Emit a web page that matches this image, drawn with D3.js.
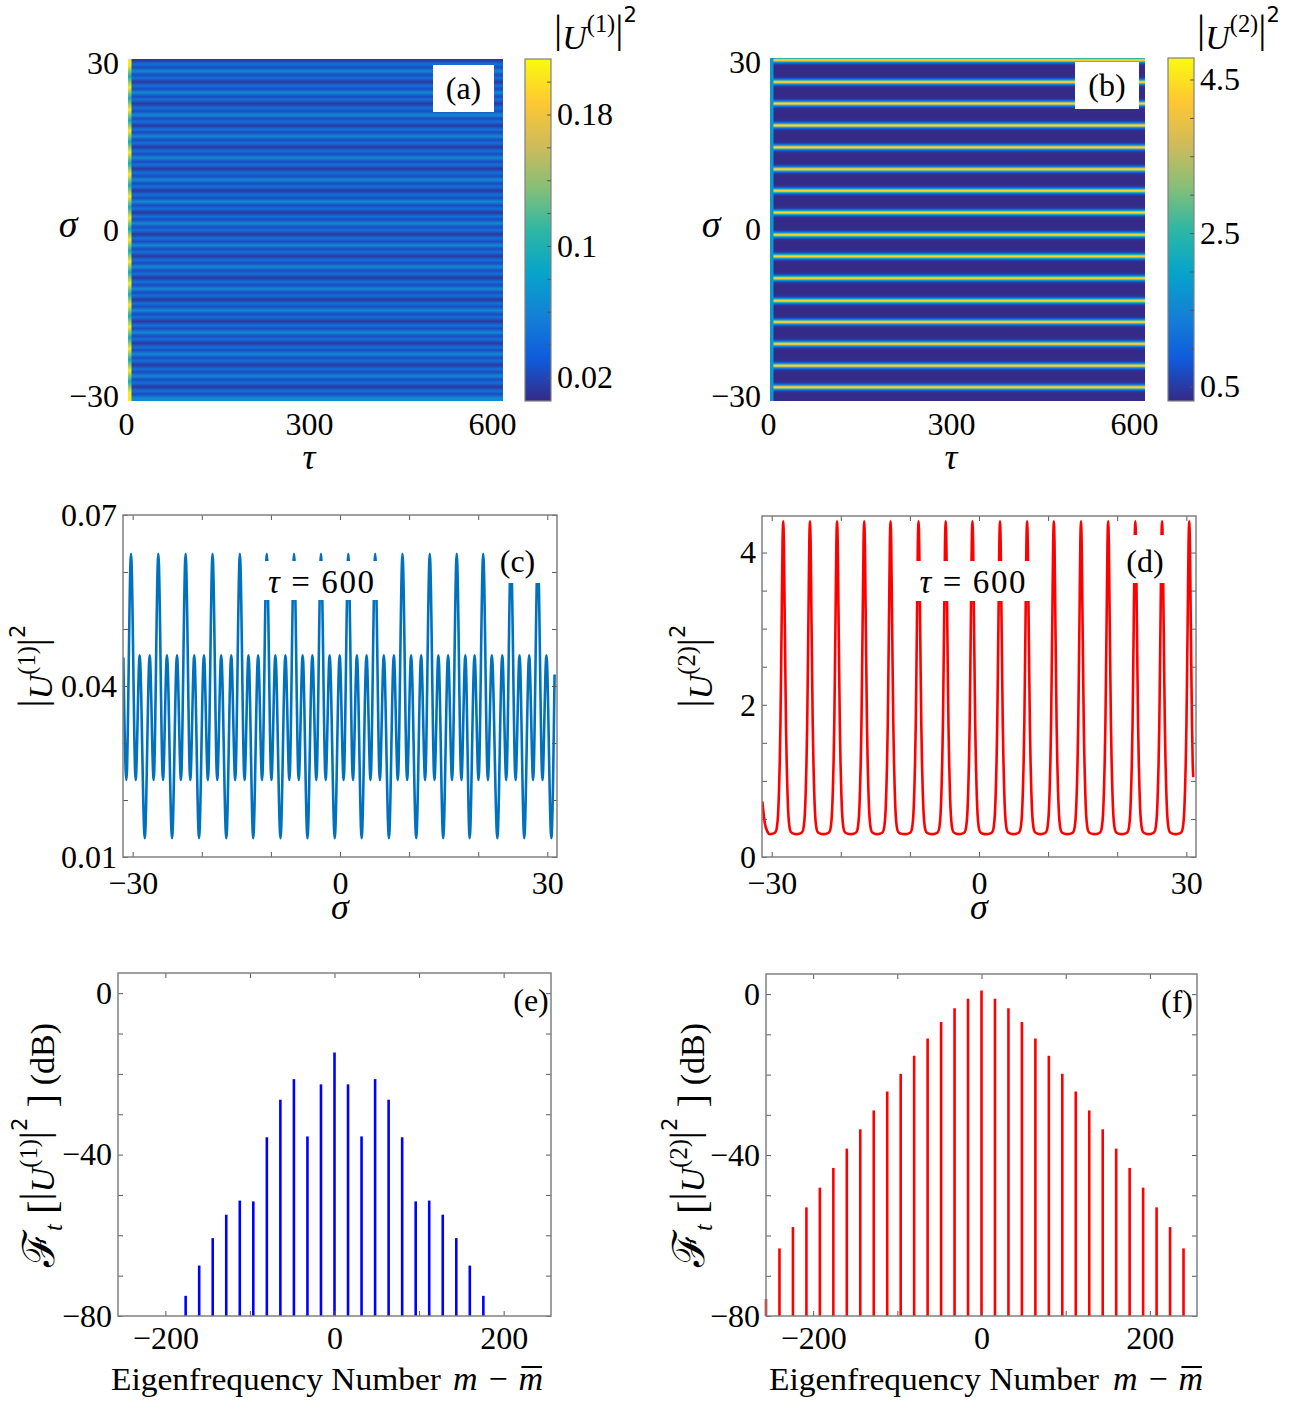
<!DOCTYPE html>
<html>
<head>
<meta charset="utf-8">
<title>MI maps and spectra</title>
<script src="https://cdn.jsdelivr.net/npm/d3@7"></script>
<style>
  body { margin: 0; background: #fff; }
  text { font-family: "Liberation Serif", "DejaVu Serif", serif; }
</style>
</head>
<body>
<svg id="fig" width="1296" height="1418"></svg>
<script>
// ---------- data ----------
// tick labels
const tauTicks = [0, 300, 600];
const sigmaTicks = [-30, 0, 30];
const sigmaMinor = [-30, -20, -10, 0, 10, 20, 30];
const u1Ticks = [0.01, 0.04, 0.07];
const u1Minor = [0.01, 0.02, 0.03, 0.04, 0.05, 0.06, 0.07];
const u2Ticks = [0, 2, 4];
const u2Minor = [0, 0.5, 1, 1.5, 2, 2.5, 3, 3.5, 4];
const dbTicks = [-80, -40, 0];
const dbMinor = [-80, -70, -60, -50, -40, -30, -20, -10, 0];
const modeTicks = [-200, 0, 200];
const modeMinor = [-200, -100, 0, 100, 200];
const cbTicks1 = [0.02, 0.1, 0.18];
const cbMinor1 = [0.02, 0.04, 0.06, 0.08, 0.1, 0.12, 0.14, 0.16, 0.18, 0.2];
const cbTicks2 = [0.5, 2.5, 4.5];
const cbMinor2 = [0.5, 1, 1.5, 2, 2.5, 3, 3.5, 4, 4.5];

// colour limits of the two maps
const clim1 = [0.0056, 0.2138];
const clim2 = [0.313, 4.78];

// (c) |U1|^2 at tau = 600 : sigma of the high peaks, and one period read around a high peak
const peaks1 = [-30.24, -26.29, -22.34, -18.44, -14.49, -10.60, -6.65, -2.75, 1.20, 5.09, 9.04, 12.99, 16.89, 20.72, 24.73, 28.62];
const shape1Off = [-1.96, -1.25, -0.67, 0, 0.67, 1.25];
const shape1Val = [0.0133, 0.0454, 0.0235, 0.0632, 0.0235, 0.0454];
const head1 = [[-31.35, 0.0450]];
const tail1 = [[30.58, 0.0133], [31.05, 0.042]];

// (d) |U2|^2 at tau = 600
const peaks2 = [-28.33, -24.46, -20.54, -16.61, -12.80, -8.75, -4.82, -0.95, 3.04, 6.96, 10.83, 14.76, 18.69, 22.62, 26.49, 30.42];
const shape2Off = [-1.96, -1.4, -1.1, -0.9, -0.75, -0.6, -0.5, -0.4, -0.3, -0.2, -0.1, 0, 0.1, 0.2, 0.3, 0.4, 0.5, 0.6, 0.75, 0.9, 1.1, 1.4];
const shape2Val = [0.30, 0.31, 0.33, 0.40, 0.55, 0.90, 1.25, 1.75, 2.5, 3.3, 4.1, 4.41, 4.1, 3.3, 2.5, 1.75, 1.25, 0.90, 0.55, 0.40, 0.33, 0.31];
const head2 = [[-31.35, 0.73], [-31.0, 0.45], [-30.6, 0.33]];
const tail2 = [[31.0, 1.05]];

// early-time strip at the left edge of the maps
const strip1Off = [-0.98, 0.98];
const strip1Val = [0.095, 0.205];
const strip2Val = 1.8;
const stripTau = 9;

// (e), (f) spectra in dB
const modes1 = [-176, -160, -144, -128, -112, -96, -80, -64, -48, -32, -16, 0, 16, 32, 48, 64, 80, 96, 112, 128, 144, 160, 176];
const spec1 = [-75.0, -67.5, -60.7, -54.9, -51.4, -51.6, -35.7, -26.4, -21.3, -35.5, -22.6, -14.7, -22.6, -35.5, -21.3, -26.4, -35.7, -51.6, -51.4, -54.9, -60.7, -67.5, -75.0];
const modes2 = [-256, -240, -224, -208, -192, -176, -160, -144, -128, -112, -96, -80, -64, -48, -32, -16, 0, 16, 32, 48, 64, 80, 96, 112, 128, 144, 160, 176, 192, 208, 224, 240];
const spec2 = [-75.8, -63.2, -57.9, -53.0, -48.1, -43.2, -38.4, -33.6, -28.9, -24.2, -19.8, -15.3, -11.0, -6.95, -3.5, -1.15, 0.9, -1.15, -3.5, -6.95, -11.0, -15.3, -19.8, -24.2, -28.9, -33.6, -38.4, -43.2, -48.1, -53.0, -57.9, -63.2];

// parula colormap
const parula = ["#352a87", "#0f5cdd", "#1481d6", "#06a4ca", "#2eb7a4", "#87bf77", "#d1bb59", "#fec832", "#f9fb0e"];

// ---------- helpers ----------
let svg = d3.select("#fig");
let defs = svg.append("defs");
let fmt = d3.format("");

let parulaScale = d3.scaleLinear()
  .domain(parula.map((c, i) => i / (parula.length - 1)))
  .range(parula)
  .clamp(true);

let buildProfile = (peaks, off, val, head, tail, lo, hi) => {
  let pts = head.slice();
  peaks.forEach(p => off.forEach((o, i) => pts.push([p + o, val[i]])));
  tail.forEach(q => pts.push(q));
  return pts.filter(q => q[0] >= lo && q[0] <= hi).sort((a, b) => a[0] - b[0]);
};

// vertical gradient: one stop per profile point
let gradient = (id, pts, ySc, color) => {
  let [yb, yt] = ySc.range();
  let g = defs.append("linearGradient").attr("id", id)
    .attr("gradientUnits", "userSpaceOnUse")
    .attr("x1", 0).attr("x2", 0).attr("y1", yt).attr("y2", yb);
  pts.slice().reverse().forEach(p => {
    g.append("stop")
      .attr("offset", (ySc(p[0]) - yt) / (yb - yt))
      .attr("stop-color", color(p[1]));
  });
};

let mathText = (parent, parts, size) => {
  let t = parent.append("text").attr("font-size", size);
  let prev = 0;
  parts.forEach(p => {
    let ts = t.append("tspan").text(p.t);
    if (p.s) ts.attr("font-size", size * p.s);
    if (p.i) ts.attr("font-style", "italic");
    if (p.f) ts.attr("font-family", p.f);
    let yy = p.y || 0;
    if (yy !== prev) ts.attr("dy", yy - prev);
    prev = yy;
  });
  return t;
};

let absU = k => [
  {t: "|", s: 1.2, y: -7},
  {t: "U", i: 1, y: 0},
  {t: `(${k})`, s: 0.72, y: -17},
  {t: "|", s: 1.2, y: -7},
  {t: "2", s: 0.62, f: "DejaVu Sans", y: -27}
];

let specLabel = k => [
  {t: "\u2131", f: "DejaVu Serif", s: 1.3, y: 0},
  {t: "t", i: 1, s: 0.72, y: 8},
  {t: " [", s: 1.2, y: 2},
  ...absU(k),
  {t: " ]", s: 1.2, y: 2},
  {t: " (dB)", y: 0}
];

// inward ticks on four sides + grey box
let frame = (g, x, y, xMinor, yMinor) => {
  let [x0, x1] = x.range(), [y1, y0] = y.range();
  [[d3.axisBottom(x).tickValues(xMinor), `translate(0,${y1})`],
   [d3.axisTop(x).tickValues(xMinor), `translate(0,${y0})`],
   [d3.axisLeft(y).tickValues(yMinor), `translate(${x0},0)`],
   [d3.axisRight(y).tickValues(yMinor), `translate(${x1},0)`]].forEach(([ax, tr]) => {
    g.append("g").attr("transform", tr).attr("color", "#5a5a5a")
      .call(ax.tickSize(-5).tickFormat(""))
      .call(s => s.select(".domain").remove());
  });
  g.append("rect")
    .attr("x", x0).attr("y", y0).attr("width", x1 - x0).attr("height", y1 - y0)
    .attr("fill", "none").attr("stroke", "#808080").attr("stroke-width", 1.5);
};

let labels = (g, x, y, xVals, yVals, padX, padY) => {
  let [x0] = x.range(), [y1] = y.range();
  g.append("g").attr("transform", `translate(0,${y1})`)
    .call(d3.axisBottom(x).tickValues(xVals).tickSize(0).tickPadding(padX).tickFormat(fmt))
    .call(s => s.select(".domain").remove())
    .attr("font-size", 32).attr("font-family", null);
  g.append("g").attr("transform", `translate(${x0},0)`)
    .call(d3.axisLeft(y).tickValues(yVals).tickSize(0).tickPadding(padY).tickFormat(fmt))
    .call(s => s.select(".domain").remove())
    .attr("font-size", 32).attr("font-family", null);
};

let whiteBox = (g, x, y, w, h) => g.append("rect")
  .attr("x", x).attr("y", y).attr("width", w).attr("height", h).attr("fill", "#fff");

// ---------- (a) and (b): maps ----------
let maps = [
  {id: "a", box: [128, 503, 59, 401], cb: [525, 551], clim: clim1, cbTicks: cbTicks1, cbMinor: cbMinor1,
   prof: buildProfile(peaks1, shape1Off, shape1Val, head1, tail1, -30.8, 30.8),
   strip: buildProfile(peaks1, strip1Off, strip1Val, [], [], -30.8, 30.8), k: 1,
   tag: [433, 65, 61, 47], sigmaX: 68, titleX: 554},
  {id: "b", box: [770, 1145, 58, 401], cb: [1168, 1194], clim: clim2, cbTicks: cbTicks2, cbMinor: cbMinor2,
   prof: buildProfile(peaks2, shape2Off, shape2Val, head2, tail2, -30.8, 30.8),
   strip: [[-30.8, strip2Val], [30.8, strip2Val]], k: 2,
   tag: [1075, 62, 64, 47], sigmaX: 711, titleX: 1197}
];

maps.forEach(m => {
  let g = svg.append("g");
  let [x0, x1, y0, y1] = m.box;
  let x = d3.scaleLinear().domain([0, 618]).range([x0 - 2, x1]);
  let y = d3.scaleLinear().domain([-30.8, 30.8]).range([y1, y0]);
  let color = v => parulaScale((v - m.clim[0]) / (m.clim[1] - m.clim[0]));

  gradient("map" + m.id, m.prof, y, color);
  gradient("strip" + m.id, m.strip, y, color);
  g.append("rect").attr("x", x0).attr("y", y0).attr("width", x1 - x0).attr("height", y1 - y0)
    .attr("fill", `url(#map${m.id})`);
  g.append("rect").attr("x", x0).attr("y", y0).attr("width", x(stripTau) - x0).attr("height", y1 - y0)
    .attr("fill", `url(#strip${m.id})`);

  labels(g, x, y, tauTicks, sigmaTicks, 11, 7);

  // panel tag
  let [tx, ty, tw, th] = m.tag;
  whiteBox(g, tx, ty, tw, th);
  g.append("text").attr("x", tx + tw / 2).attr("y", ty + 34).attr("text-anchor", "middle")
    .attr("font-size", 32).text(`(${m.id})`);

  // axis names
  g.append("text").attr("x", x(300)).attr("y", 469).attr("text-anchor", "middle")
    .attr("font-size", 36).attr("font-style", "italic").text("\u03c4");
  g.append("text").attr("x", m.sigmaX).attr("y", 237).attr("text-anchor", "middle")
    .attr("font-size", 38).attr("font-style", "italic").text("\u03c3");

  // colour bar
  let [c0, c1] = m.cb;
  let cy = d3.scaleLinear().domain(m.clim).range([y1, y0]);
  let cg = defs.append("linearGradient").attr("id", "cb" + m.id)
    .attr("x1", 0).attr("x2", 0).attr("y1", 1).attr("y2", 0);
  parula.forEach((c, i) => cg.append("stop").attr("offset", i / (parula.length - 1)).attr("stop-color", c));
  g.append("rect").attr("x", c0).attr("y", y0).attr("width", c1 - c0).attr("height", y1 - y0)
    .attr("fill", `url(#cb${m.id})`).attr("stroke", "#808080").attr("stroke-width", 1.2);
  g.append("g").attr("transform", `translate(${c1},0)`).attr("color", "#555")
    .call(d3.axisLeft(cy).tickValues(m.cbMinor).tickSize(4).tickFormat(""))
    .call(s => s.select(".domain").remove());
  g.append("g").attr("transform", `translate(${c1},0)`)
    .call(d3.axisRight(cy).tickValues(m.cbTicks).tickSize(0).tickPadding(6).tickFormat(fmt))
    .call(s => s.select(".domain").remove())
    .attr("font-size", 32).attr("font-family", null);

  mathText(g.append("g").attr("transform", `translate(${m.titleX},49)`), absU(m.k), 34);
});

// ---------- (c) and (d): profiles at tau = 600 ----------
let cuts = [
  {id: "c", box: [123, 557, 515, 857], dom: [0.01, 0.07], ticks: u1Ticks, minor: u1Minor, col: "#0072bd",
   prof: buildProfile(peaks1, shape1Off, shape1Val, head1, tail1, -31.35, 31.05), k: 1,
   tauBox: [264, 561, 114, 39], tagBox: [490, 545, 55, 38], labX: 52},
  {id: "d", box: [762, 1196, 516, 857], dom: [0, 4.48], ticks: u2Ticks, minor: u2Minor, col: "#ff0000",
   prof: buildProfile(peaks2, shape2Off, shape2Val, head2, tail2, -31.35, 31.0), k: 2,
   tauBox: [914, 561, 117, 40], tagBox: [1120, 535, 50, 48], labX: 712}
];

cuts.forEach(m => {
  let g = svg.append("g");
  let [x0, x1, y0, y1] = m.box;
  let x = d3.scaleLinear().domain([-31.4, 31.4]).range([x0, x1]);
  let y = d3.scaleLinear().domain(m.dom).range([y1, y0]);

  defs.append("clipPath").attr("id", "clip" + m.id).append("rect")
    .attr("x", x0).attr("y", y0).attr("width", x1 - x0).attr("height", y1 - y0);

  let line = d3.line().x(d => x(d[0])).y(d => y(d[1])).curve(d3.curveMonotoneX);
  g.append("path").datum(m.prof).attr("d", line)
    .attr("fill", "none").attr("stroke", m.col).attr("stroke-width", 2.6)
    .attr("clip-path", `url(#clip${m.id})`);

  let [bx, by, bw, bh] = m.tauBox;
  whiteBox(g, bx, by, bw, bh);
  let tt = g.append("text").attr("x", bx + bw / 2).attr("y", by + 32).attr("text-anchor", "middle")
    .attr("font-size", 33).attr("textLength", 106).attr("lengthAdjust", "spacing");
  tt.append("tspan").attr("font-style", "italic").text("\u03c4");
  tt.append("tspan").text(" = 600");

  let [qx, qy, qw, qh] = m.tagBox;
  whiteBox(g, qx, qy, qw, qh);
  g.append("text").attr("x", qx + qw / 2).attr("y", qy + qh - 11).attr("text-anchor", "middle")
    .attr("font-size", 32).text(`(${m.id})`);

  frame(g, x, y, sigmaMinor, m.minor);
  labels(g, x, y, sigmaTicks, m.ticks, 14, 6);

  g.append("text").attr("x", x(0)).attr("y", 919).attr("text-anchor", "middle")
    .attr("font-size", 36).attr("font-style", "italic").text("\u03c3");
  mathText(g.append("g").attr("transform", `translate(${m.labX},666) rotate(-90)`), absU(m.k), 34)
    .attr("text-anchor", "middle");
});

// ---------- (e) and (f): spectra ----------
let specs = [
  {id: "e", box: [118, 551, 973, 1316], modes: modes1, vals: spec1, col: "#0000ff", k: 1, labX: 54, nameX: 111, mX: 453},
  {id: "f", box: [766, 1197, 974, 1316], modes: modes2, vals: spec2, col: "#ff0000", k: 2, labX: 704, nameX: 769, mX: 1113}
];

specs.forEach(m => {
  let g = svg.append("g");
  let [x0, x1, y0, y1] = m.box;
  let x = d3.scaleLinear().domain([-256, 256]).range([x0, x1]);
  let y = d3.scaleLinear().domain([-80, 5]).range([y1, y0]);
  let data = m.modes.map((d, i) => ({m: d, v: m.vals[i]}));

  g.selectAll("line.bar").data(data).join("line").attr("class", "bar")
    .attr("x1", d => x(d.m)).attr("x2", d => x(d.m))
    .attr("y1", y(-80)).attr("y2", d => y(d.v))
    .attr("stroke", m.col).attr("stroke-width", 2.6);

  frame(g, x, y, modeMinor, dbMinor);
  labels(g, x, y, modeTicks, dbTicks, 10, 6);

  g.append("text").attr("x", x1 - 20).attr("y", y0 + 38).attr("text-anchor", "middle")
    .attr("font-size", 32).text(`(${m.id})`);

  g.append("text").attr("x", m.nameX).attr("y", 1390).attr("font-size", 32)
    .attr("textLength", 330).attr("lengthAdjust", "spacingAndGlyphs").text("Eigenfrequency Number");
  let mm = g.append("text").attr("x", m.mX).attr("y", 1390).attr("font-size", 34)
    .attr("textLength", 90).attr("lengthAdjust", "spacing");
  mm.append("tspan").attr("font-style", "italic").text("m");
  mm.append("tspan").text(" \u2212 ");
  mm.append("tspan").attr("font-style", "italic").text("m");
  // bar over the last m
  let node = mm.node(), n = node.getNumberOfChars();
  let ext = node.getExtentOfChar(n - 1);
  g.append("line")
    .attr("x1", ext.x + 3).attr("x2", ext.x + ext.width - 1)
    .attr("y1", 1367).attr("y2", 1367)
    .attr("stroke", "#000").attr("stroke-width", 2);

  mathText(g.append("g").attr("transform", `translate(${m.labX},1145) rotate(-90)`), specLabel(m.k), 34)
    .attr("text-anchor", "middle");
});
</script>
</body>
</html>
